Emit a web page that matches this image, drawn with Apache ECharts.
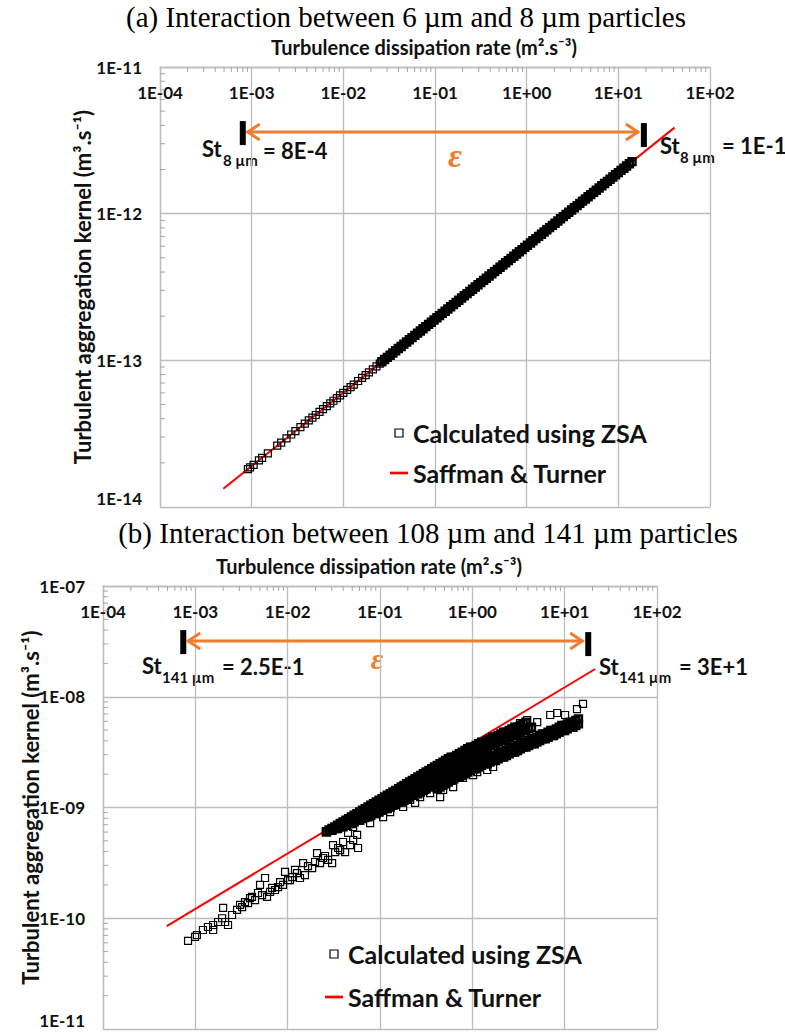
<!DOCTYPE html>
<html>
<head>
<meta charset="utf-8">
<script src="https://cdn.jsdelivr.net/npm/echarts/dist/echarts.min.js"></script>
<style>
  html, body { margin: 0; padding: 0; background: #fff; }
  #chart { width: 785px; height: 1035px; }
</style>
</head>
<body>
<div id="chart"></div>
<script>
// ---------------- values ----------------
var xRange = [1e-4, 100];          // turbulence dissipation rate axis
var yRangeA = [1e-14, 1e-11];      // kernel axis, panel (a)
var yRangeB = [1e-11, 1e-7];       // kernel axis, panel (b)

// Saffman & Turner lines (end points)
var stEpsA = [4.9e-4, 41];
var stKernelA = [1.33e-14, 3.86e-12];
var stEpsB = [4.9e-4, 21.4];
var stKernelB = [8.5e-11, 1.78e-8];

// Stokes-number range markers (eps of both bars, kernel level of the arrow)
var stokesEpsA = [8.0e-4, 19];
var arrowKernelA = 3.6e-12;
var stokesEpsB = [7.4e-4, 18];
var arrowKernelB = 3.18e-8;

// epsilon values of the densely sampled ZSA runs (both panels)
var epsGrid = [0.0263, 0.0282, 0.0302, 0.0324, 0.0347, 0.0372, 0.0398, 0.0427, 0.0457, 0.0490,
  0.0525, 0.0562, 0.0603, 0.0646, 0.0692, 0.0741, 0.0794, 0.0851, 0.0912, 0.0977,
  0.105, 0.112, 0.120, 0.129, 0.138, 0.148, 0.159, 0.170, 0.182, 0.195,
  0.209, 0.224, 0.240, 0.257, 0.275, 0.295, 0.316, 0.339, 0.363, 0.389,
  0.417, 0.447, 0.479, 0.513, 0.550, 0.589, 0.631, 0.676, 0.724, 0.776,
  0.832, 0.891, 0.955, 1.02, 1.10, 1.17, 1.26, 1.35, 1.45, 1.55,
  1.66, 1.78, 1.91, 2.04, 2.19, 2.34, 2.51, 2.69, 2.88, 3.09,
  3.31, 3.55, 3.80, 4.07, 4.37, 4.68, 5.01, 5.37, 5.75, 6.17,
  6.61, 7.08, 7.59, 8.13, 8.71, 9.33, 10.0, 10.7, 11.5, 12.3,
  13.2, 14.1];

// panel (a): sparse low-eps ZSA points
var zsaEpsA = [9.1e-4, 9.6e-4, 1.05e-3, 1.2e-3, 1.3e-3, 1.5e-3, 1.9e-3, 2.1e-3, 2.4e-3, 2.7e-3,
  3.0e-3, 3.4e-3, 3.8e-3, 4.2e-3, 4.6e-3, 5.0e-3, 5.5e-3, 6.0e-3, 6.6e-3, 7.2e-3,
  7.8e-3, 8.5e-3, 9.2e-3, 1.0e-2, 1.1e-2, 1.2e-2, 1.3e-2, 1.45e-2, 1.6e-2, 1.75e-2,
  1.9e-2, 2.1e-2, 2.3e-2, 2.5e-2];
var zsaKernelA = [1.81e-14, 1.86e-14, 1.94e-14, 2.08e-14, 2.16e-14, 2.32e-14, 2.62e-14, 2.75e-14, 2.94e-14, 3.12e-14,
  3.29e-14, 3.50e-14, 3.70e-14, 3.89e-14, 4.07e-14, 4.24e-14, 4.45e-14, 4.65e-14, 4.87e-14, 5.09e-14,
  5.30e-14, 5.53e-14, 5.76e-14, 6.00e-14, 6.29e-14, 6.57e-14, 6.84e-14, 7.23e-14, 7.59e-14, 7.94e-14,
  8.27e-14, 8.69e-14, 9.10e-14, 9.49e-14];
// panel (a): ZSA kernel on epsGrid
var zsaKernelADense = [9.77e-14,
  1.012e-13, 1.047e-13, 1.084e-13, 1.122e-13, 1.161e-13, 1.203e-13, 1.244e-13, 1.289e-13, 1.333e-13, 1.381e-13,
  1.429e-13, 1.479e-13, 1.532e-13, 1.585e-13, 1.641e-13, 1.698e-13, 1.758e-13, 1.820e-13, 1.884e-13, 1.950e-13,
  2.018e-13, 2.089e-13, 2.163e-13, 2.239e-13, 2.318e-13, 2.399e-13, 2.483e-13, 2.570e-13, 2.661e-13, 2.755e-13,
  2.851e-13, 2.951e-13, 3.055e-13, 3.162e-13, 3.274e-13, 3.389e-13, 3.507e-13, 3.631e-13, 3.758e-13, 3.891e-13,
  4.027e-13, 4.169e-13, 4.315e-13, 4.467e-13, 4.624e-13, 4.787e-13, 4.955e-13, 5.129e-13, 5.309e-13, 5.496e-13,
  5.688e-13, 5.888e-13, 6.096e-13, 6.309e-13, 6.532e-13, 6.761e-13, 6.998e-13, 7.244e-13, 7.499e-13, 7.763e-13,
  8.035e-13, 8.317e-13, 8.610e-13, 8.912e-13, 9.226e-13, 9.551e-13, 9.885e-13,
  1.023e-12, 1.059e-12, 1.097e-12, 1.135e-12, 1.175e-12, 1.217e-12, 1.259e-12, 1.304e-12, 1.349e-12, 1.397e-12,
  1.446e-12, 1.496e-12, 1.549e-12, 1.604e-12, 1.660e-12, 1.718e-12, 1.778e-12, 1.841e-12, 1.905e-12, 1.973e-12,
  2.041e-12, 2.113e-12, 2.188e-12, 2.265e-12];

// panel (b): scattered ZSA points, low eps
var zsaEpsBLow = [8.34e-4, 9.93e-4, 1.04e-3, 1.21e-3, 1.37e-3, 1.56e-3, 1.56e-3, 1.76e-3, 1.95e-3, 2.00e-3,
  2.10e-3, 2.26e-3, 2.50e-3, 2.83e-3, 3.05e-3, 3.21e-3, 3.45e-3, 3.72e-3, 3.91e-3, 4.11e-3,
  4.43e-3, 4.77e-3, 5.02e-3, 5.28e-3, 5.69e-3, 5.98e-3, 6.45e-3, 6.78e-3, 7.30e-3, 7.87e-3,
  8.28e-3, 8.91e-3, 9.37e-3, 1.01e-2, 1.06e-2, 1.12e-2, 1.20e-2, 1.26e-2, 1.36e-2, 1.47e-2,
  1.54e-2, 1.66e-2, 1.84e-2, 1.98e-2, 2.08e-2, 2.24e-2, 2.42e-2, 2.54e-2, 2.74e-2, 3.03e-2,
  3.10e-2, 3.27e-2, 3.52e-2, 3.70e-2, 3.98e-2, 4.19e-2, 4.51e-2, 4.74e-2, 5.12e-2, 5.65e-2,
  5.79e-2];
var zsaKernelBLow = [6.24e-11, 6.78e-11, 7.06e-11, 7.83e-11, 8.34e-11, 8.69e-11, 7.83e-11, 9.25e-11, 1.00e-10, 1.24e-10,
  9.25e-11, 8.69e-11, 1.07e-10, 1.19e-10, 1.32e-10, 1.26e-10, 1.40e-10, 1.37e-10, 1.52e-10, 1.56e-10,
  1.46e-10, 1.69e-10, 2.00e-10, 1.62e-10, 2.31e-10, 1.56e-10, 1.73e-10, 1.88e-10, 1.80e-10, 1.91e-10,
  2.12e-10, 2.00e-10, 2.62e-10, 2.21e-10, 2.21e-10, 2.35e-10, 2.73e-10, 2.56e-10, 2.31e-10, 3.15e-10,
  2.45e-10, 2.96e-10, 2.84e-10, 3.22e-10, 3.88e-10, 3.15e-10, 3.50e-10, 3.65e-10, 3.36e-10, 3.15e-10,
  4.58e-10, 3.96e-10, 4.31e-10, 4.13e-10, 4.88e-10, 3.96e-10, 5.89e-10, 4.58e-10, 5.09e-10, 5.65e-10,
  4.31e-10];
// panel (b): scattered points below the dense band
var zsaEpsBMid = [5.12e-2, 6.90e-2, 7.82e-2, 9.31e-2, 0.108, 0.129, 0.146, 0.178, 0.212, 0.240,
  0.272, 0.308, 0.349, 0.395, 0.448, 0.483, 0.547, 0.620, 0.702, 0.794,
  1.02, 1.13, 1.45, 1.68];
var zsaKernelBMid = [6.67e-10, 8.03e-10, 7.24e-10, 9.10e-10, 8.20e-10, 9.10e-10, 1.05e-9, 1.01e-9, 1.17e-9, 1.10e-9,
  1.24e-9, 1.44e-9, 1.35e-9, 1.56e-9, 1.24e-9, 1.44e-9, 1.70e-9, 1.53e-9, 2.00e-9, 1.85e-9,
  1.96e-9, 2.09e-9, 2.18e-9, 2.32e-9];
// panel (b): scattered points of the upper group at high eps
var zsaEpsBTop = [3.30, 3.93, 5.04, 6.97, 8.30, 10.1, 13.6, 15.8];
var zsaKernelBTop = [5.79e-9, 6.17e-9, 5.91e-9, 6.84e-9, 7.13e-9, 6.84e-9, 7.74e-9, 8.61e-9];

// panel (b): dense runs on epsGrid (upper edge, j = 0..72)
var zsaKernelB1 = [6.026e-10, 6.237e-10, 6.457e-10, 6.683e-10, 6.918e-10, 7.161e-10, 7.413e-10, 7.674e-10, 7.943e-10, 8.222e-10,
  8.511e-10, 8.810e-10, 9.120e-10, 9.441e-10, 9.772e-10, 1.012e-9, 1.047e-9, 1.084e-9, 1.122e-9, 1.161e-9,
  1.203e-9, 1.244e-9, 1.289e-9, 1.333e-9, 1.381e-9, 1.429e-9, 1.479e-9, 1.532e-9, 1.585e-9, 1.641e-9,
  1.698e-9, 1.758e-9, 1.820e-9, 1.884e-9, 1.950e-9, 2.018e-9, 2.089e-9, 2.163e-9, 2.239e-9, 2.318e-9,
  2.399e-9, 2.483e-9, 2.570e-9, 2.661e-9, 2.755e-9, 2.851e-9, 2.851e-9, 2.951e-9, 3.055e-9, 3.162e-9,
  3.274e-9, 3.389e-9, 3.507e-9, 3.507e-9, 3.631e-9, 3.758e-9, 3.891e-9, 3.891e-9, 4.027e-9, 4.169e-9,
  4.315e-9, 4.315e-9, 4.467e-9, 4.624e-9, 4.787e-9, 4.787e-9, 4.955e-9, 5.129e-9, 5.309e-9, 5.309e-9,
  5.496e-9, 5.688e-9, 5.888e-9];
// lower band (all of epsGrid)
var zsaKernelB2 = [6.026e-10, 6.237e-10, 6.237e-10, 6.457e-10, 6.457e-10, 6.683e-10, 6.683e-10, 6.918e-10, 7.161e-10, 7.161e-10,
  7.413e-10, 7.674e-10, 7.674e-10, 7.943e-10, 8.222e-10, 8.222e-10, 8.511e-10, 8.810e-10, 8.810e-10, 9.120e-10,
  9.441e-10, 9.772e-10, 9.772e-10, 1.012e-9, 1.047e-9, 1.084e-9, 1.122e-9, 1.122e-9, 1.161e-9, 1.203e-9,
  1.244e-9, 1.289e-9, 1.333e-9, 1.333e-9, 1.381e-9, 1.429e-9, 1.479e-9, 1.532e-9, 1.585e-9, 1.641e-9,
  1.641e-9, 1.698e-9, 1.758e-9, 1.820e-9, 1.884e-9, 1.950e-9, 2.018e-9, 2.089e-9, 2.089e-9, 2.163e-9,
  2.239e-9, 2.318e-9, 2.399e-9, 2.483e-9, 2.483e-9, 2.570e-9, 2.661e-9, 2.755e-9, 2.755e-9, 2.851e-9,
  2.951e-9, 2.951e-9, 3.055e-9, 3.162e-9, 3.162e-9, 3.274e-9, 3.389e-9, 3.507e-9, 3.507e-9, 3.631e-9,
  3.758e-9, 3.891e-9, 3.891e-9, 4.027e-9, 4.169e-9, 4.169e-9, 4.315e-9, 4.467e-9, 4.624e-9, 4.624e-9,
  4.787e-9, 4.955e-9, 4.955e-9, 5.129e-9, 5.309e-9, 5.496e-9, 5.496e-9, 5.688e-9, 5.888e-9, 5.888e-9,
  6.096e-9, 6.309e-9];
// lower band, bottom row (j = 40..91)
var zsaKernelB2b = [1.479e-9, 1.532e-9, 1.585e-9, 1.641e-9, 1.698e-9, 1.758e-9, 1.820e-9, 1.884e-9, 1.884e-9, 1.950e-9,
  2.018e-9, 2.089e-9, 2.163e-9, 2.239e-9, 2.239e-9, 2.318e-9, 2.399e-9, 2.483e-9, 2.483e-9, 2.570e-9,
  2.661e-9, 2.661e-9, 2.755e-9, 2.851e-9, 2.851e-9, 2.951e-9, 3.055e-9, 3.162e-9, 3.162e-9, 3.274e-9,
  3.389e-9, 3.507e-9, 3.507e-9, 3.631e-9, 3.758e-9, 3.758e-9, 3.891e-9, 4.027e-9, 4.169e-9, 4.169e-9,
  4.315e-9, 4.467e-9, 4.467e-9, 4.624e-9, 4.787e-9, 4.955e-9, 4.955e-9, 5.129e-9, 5.309e-9, 5.309e-9,
  5.496e-9, 5.688e-9];
// middle of the wedge (j = 6..74)
var zsaKernelB3 = [6.918e-10, 7.161e-10, 7.413e-10, 7.674e-10, 7.943e-10, 8.222e-10, 8.222e-10, 8.511e-10, 8.810e-10, 9.120e-10,
  9.441e-10, 9.772e-10, 9.772e-10, 1.012e-9, 1.047e-9, 1.084e-9, 1.122e-9, 1.161e-9, 1.203e-9, 1.244e-9,
  1.289e-9, 1.289e-9, 1.333e-9, 1.381e-9, 1.429e-9, 1.479e-9, 1.532e-9, 1.585e-9, 1.641e-9, 1.698e-9,
  1.758e-9, 1.820e-9, 1.884e-9, 1.950e-9, 1.950e-9, 2.018e-9, 2.089e-9, 2.163e-9, 2.239e-9, 2.318e-9,
  2.399e-9, 2.483e-9, 2.483e-9, 2.570e-9, 2.661e-9, 2.755e-9, 2.851e-9, 2.951e-9, 3.055e-9, 3.162e-9,
  3.274e-9, 3.389e-9, 3.507e-9, 3.631e-9, 3.758e-9, 3.758e-9, 3.891e-9, 4.027e-9, 4.027e-9, 4.169e-9,
  4.315e-9, 4.467e-9, 4.467e-9, 4.624e-9, 4.787e-9, 4.955e-9, 4.955e-9, 5.129e-9, 5.309e-9];

var minorSteps = [2, 3, 4, 5, 6, 7, 8, 9];

// ---------------- styles ----------------
var ORANGE = '#ED7D31';
var RED = '#ff0000';
var GRID_C = '#bdbdbd';
var TICK_C = '#a6a6a6';
var SANS = 'Lato, "Open Sans", sans-serif';
var SERIF = '"Liberation Serif", "Times New Roman", serif';
var X_NAME = 'Turbulence dissipation rate (m².s⁻³)';
var Y_NAME = 'Turbulent aggregation kernel (m³.s⁻¹)';
var ZSA_NAME = 'Calculated using ZSA';
var ST_NAME = 'Saffman & Turner';

function pairs(xs, ys) {
  return ys.map(function (y, i) { return [xs[i], y]; });
}

function fmtE(v) {
  var e = Math.round(Math.log10(v));
  var a = Math.abs(e);
  return '1E' + (e < 0 ? '-' : '+') + (a < 10 ? '0' : '') + a;
}

var zsaASparse = pairs(zsaEpsA, zsaKernelA);
var zsaADense = pairs(epsGrid, zsaKernelADense);
var zsaBSparse = [].concat(
  pairs(zsaEpsBLow, zsaKernelBLow),
  pairs(zsaEpsBMid, zsaKernelBMid),
  pairs(zsaEpsBTop, zsaKernelBTop)
);
var zsaBDense = [].concat(
  pairs(epsGrid.slice(0, 73), zsaKernelB1),
  pairs(epsGrid, zsaKernelB2),
  pairs(epsGrid.slice(40), zsaKernelB2b),
  pairs(epsGrid.slice(6, 75), zsaKernelB3)
);

// orange double arrow between two black bars
function renderRange(params, api) {
  var a = api.coord([api.value(0), api.value(2)]);
  var b = api.coord([api.value(1), api.value(2)]);
  var y = a[1];
  var arrow = { stroke: ORANGE, lineWidth: 3, fill: null, lineJoin: 'miter' };
  return {
    type: 'group',
    children: [
      { type: 'line', shape: { x1: a[0] + 4, y1: y, x2: b[0] - 5, y2: y }, style: arrow },
      { type: 'polyline', shape: { points: [[a[0] + 17, y - 8], [a[0] + 5, y], [a[0] + 17, y + 8]] }, style: arrow },
      { type: 'polyline', shape: { points: [[b[0] - 18, y - 8], [b[0] - 6, y], [b[0] - 18, y + 8]] }, style: arrow },
      { type: 'rect', shape: { x: a[0] - 3, y: y - 11, width: 6, height: 24 }, style: { fill: '#000' } },
      { type: 'rect', shape: { x: b[0] - 3, y: y - 9, width: 6, height: 24 }, style: { fill: '#000' } }
    ]
  };
}

// Excel-like minor ticks at 2..9 of each decade
function renderMinorTicks(params, api) {
  var x0 = api.value(0), x1 = api.value(1), y0 = api.value(2), y1 = api.value(3);
  var corner = api.coord([x0, y1]);
  var kids = [];
  var st = { stroke: TICK_C, lineWidth: 1 };
  var d, i, p;
  for (d = x0; d < x1 * 0.999; d *= 10) {
    for (i = 0; i < minorSteps.length; i++) {
      p = api.coord([d * minorSteps[i], y1]);
      kids.push({ type: 'line', shape: { x1: p[0], y1: corner[1], x2: p[0], y2: corner[1] + 5 }, style: st });
    }
  }
  for (d = y0; d < y1 * 0.999; d *= 10) {
    for (i = 0; i < minorSteps.length; i++) {
      p = api.coord([x0, d * minorSteps[i]]);
      kids.push({ type: 'line', shape: { x1: corner[0], y1: p[1], x2: corner[0] + 5, y2: p[1] }, style: st });
    }
  }
  return { type: 'group', children: kids };
}

function xAxisFor(gi) {
  return {
    type: 'log', logBase: 10, gridIndex: gi, position: 'top',
    min: xRange[0], max: xRange[1], splitNumber: 6,
    name: X_NAME, nameLocation: 'middle', nameGap: 10, nameMoveOverlap: false,
    nameTextStyle: { fontFamily: SANS, fontWeight: 'bold', fontSize: 20, color: '#111', padding: [0, 22, 0, 0] },
    axisLine: { lineStyle: { color: GRID_C, width: 1.3 } },
    axisTick: { show: false },
    axisLabel: { inside: true, margin: 17, formatter: fmtE, fontFamily: SANS, fontWeight: 'bold', fontSize: 17, color: '#111' },
    splitLine: { show: true, lineStyle: { color: GRID_C, width: 1.3 } }
  };
}

function yAxisFor(gi, range, gap) {
  return {
    type: 'log', logBase: 10, gridIndex: gi,
    min: range[0], max: range[1], splitNumber: Math.round(Math.log10(range[1] / range[0])),
    name: Y_NAME, nameLocation: 'middle', nameGap: gap, nameMoveOverlap: false,
    nameTextStyle: { fontFamily: SANS, fontWeight: 'bold', fontSize: 22, color: '#111' },
    axisLine: { show: true, lineStyle: { color: GRID_C, width: 1.3 } },
    axisTick: { show: false },
    axisLabel: { margin: 18, formatter: fmtE, fontFamily: SANS, fontWeight: 'bold', fontSize: 17, color: '#111',
      verticalAlignMinLabel: 'bottom' },
    splitLine: { show: true, lineStyle: { color: GRID_C, width: 1.3 } }
  };
}

function legendFor(left, top, gap) {
  return {
    orient: 'vertical', left: left, top: top, padding: 0,
    itemWidth: 18, itemHeight: 8, itemGap: gap, selectedMode: false, symbolKeepAspect: true,
    textStyle: { fontFamily: SANS, fontWeight: 'bold', fontSize: 25, color: '#111', lineHeight: 28 },
    data: [
      { name: ZSA_NAME, icon: 'path://M0,0H8V8H0Z',
        itemStyle: { color: 'rgba(0,0,0,0)', borderColor: '#000', borderWidth: 1.2 } },
      { name: ST_NAME, icon: 'path://M0,0H20V3H0Z',
        itemStyle: { color: RED, borderWidth: 0 } }
    ]
  };
}

function scatterFor(gi, data, size, bw) {
  return {
    name: ZSA_NAME, type: 'scatter', xAxisIndex: gi, yAxisIndex: gi, data: data,
    symbol: 'rect', symbolSize: size, silent: true, z: 3,
    itemStyle: { color: 'rgba(0,0,0,0)', borderColor: '#000', borderWidth: bw, opacity: 1 }
  };
}

function lineFor(gi, data) {
  return {
    name: ST_NAME, type: 'line', xAxisIndex: gi, yAxisIndex: gi, data: data,
    symbol: 'none', silent: true, z: 2,
    lineStyle: { color: RED, width: 2 }, itemStyle: { color: RED }
  };
}

function txt(x, y, s, size, extra) {
  var style = { text: s, fontFamily: SANS, fontWeight: 'bold', fontSize: size, fill: '#111',
    align: 'left', verticalAlign: 'middle' };
  for (var k in extra) style[k] = extra[k];
  return { type: 'text', x: x, y: y, silent: true, style: style };
}

var option = {
  animation: false,
  backgroundColor: '#fff',
  grid: [
    { left: 160, top: 67, width: 550, height: 440 },
    { left: 103, top: 586, width: 554, height: 443 }
  ],
  xAxis: [xAxisFor(0), xAxisFor(1)],
  yAxis: [yAxisFor(0, yRangeA, 67), yAxisFor(1, yRangeB, 62)],
  legend: [legendFor(390, 419, 12), legendFor(325, 940, 15)],
  series: [
    lineFor(0, pairs(stEpsA, stKernelA)),
    scatterFor(0, zsaASparse, 7, 1.2),
    scatterFor(0, zsaADense, 7, 2.4),
    { type: 'custom', xAxisIndex: 0, yAxisIndex: 0, renderItem: renderRange, silent: true, z: 4, clip: false,
      encode: { x: [0, 1], y: 2 }, data: [[stokesEpsA[0], stokesEpsA[1], arrowKernelA]] },
    { type: 'custom', xAxisIndex: 0, yAxisIndex: 0, renderItem: renderMinorTicks, silent: true, z: 1, clip: false,
      encode: { x: [0, 1], y: [2, 3] }, data: [[xRange[0], xRange[1], yRangeA[0], yRangeA[1]]] },

    lineFor(1, pairs(stEpsB, stKernelB)),
    scatterFor(1, zsaBSparse, 7, 1.2),
    scatterFor(1, zsaBDense, 7, 2.4),
    { type: 'custom', xAxisIndex: 1, yAxisIndex: 1, renderItem: renderRange, silent: true, z: 4, clip: false,
      encode: { x: [0, 1], y: 2 }, data: [[stokesEpsB[0], stokesEpsB[1], arrowKernelB]] },
    { type: 'custom', xAxisIndex: 1, yAxisIndex: 1, renderItem: renderMinorTicks, silent: true, z: 1, clip: false,
      encode: { x: [0, 1], y: [2, 3] }, data: [[xRange[0], xRange[1], yRangeB[0], yRangeB[1]]] }
  ],
  graphic: [
    { type: 'text', x: 406, y: 17, silent: true, style: { text: '(a) Interaction between 6 µm and 8 µm particles',
      fontFamily: SERIF, fontSize: 29, fill: '#000', align: 'center', verticalAlign: 'middle' } },
    { type: 'text', x: 428, y: 533, silent: true, style: { text: '(b) Interaction between 108 µm and 141 µm particles',
      fontFamily: SERIF, fontSize: 29, fill: '#000', align: 'center', verticalAlign: 'middle' } },

    txt(202, 148, 'St', 22), txt(223, 160, '8 µm', 15), txt(263, 150, '= 8E-4', 22),
    txt(660, 145, 'St', 22), txt(680, 157, '8 µm', 15), txt(722, 145, '= 1E-1', 22),
    txt(142, 665, 'St', 22), txt(162, 677, '141 µm', 15), txt(222, 666, '= 2.5E-1', 22),
    txt(599, 666, 'St', 22), txt(619, 677, '141 µm', 15), txt(679, 666, '= 3E+1', 22),

    txt(455, 155, 'ε', 34, { fontFamily: SERIF, fontStyle: 'italic', fill: ORANGE, align: 'center' }),
    txt(377, 658, 'ε', 30, { fontFamily: SERIF, fontStyle: 'italic', fill: ORANGE, align: 'center' })
  ]
};

var chart = echarts.init(document.getElementById('chart'), null, { renderer: 'svg' });
chart.setOption(option);
</script>
</body>
</html>
